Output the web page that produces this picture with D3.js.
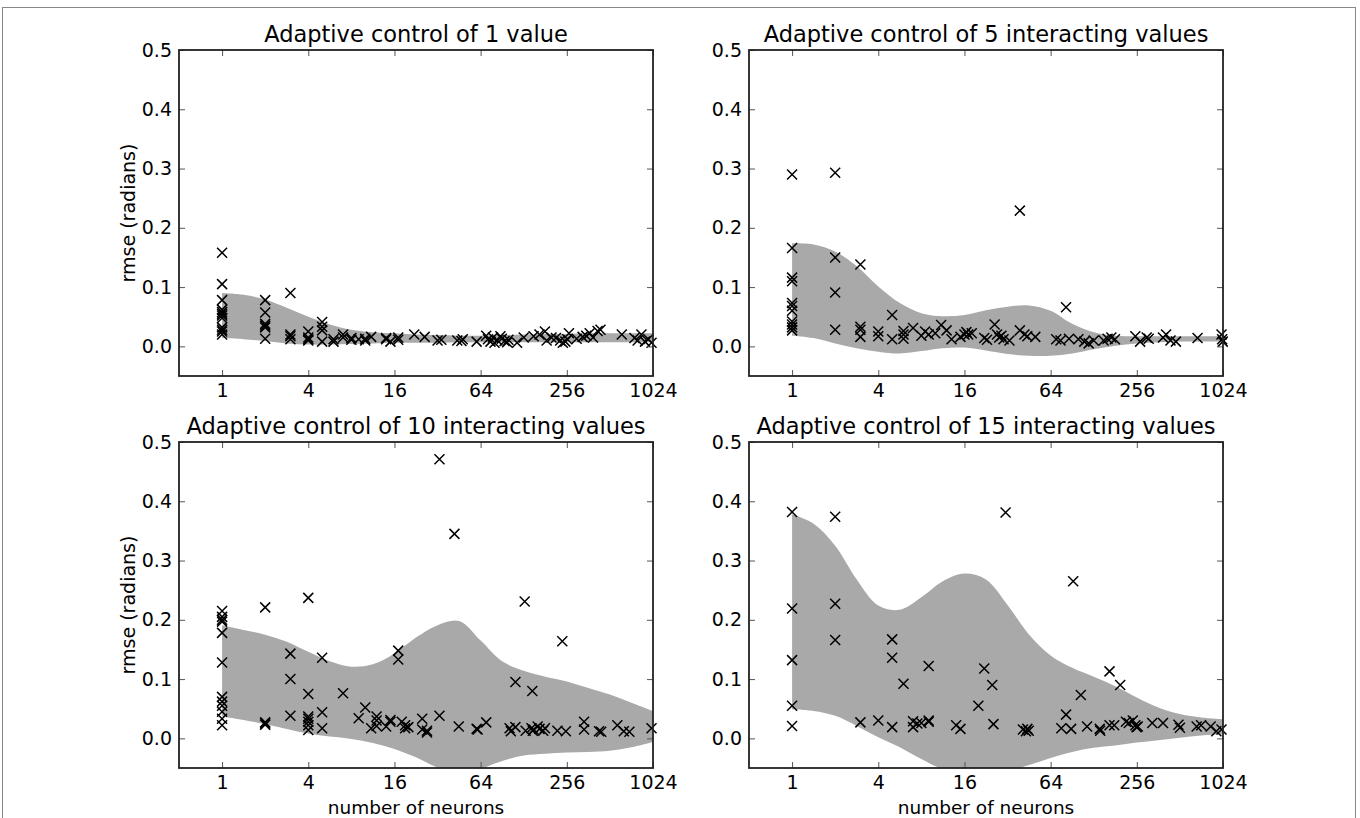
<html>
<head>
  <meta charset="utf-8">
  <title>Adaptive control</title>
  <script src="https://cdn.jsdelivr.net/npm/d3@7"></script>
  <style>
    body { margin: 0; padding: 0; background: #fff; }
    svg { display: block; font-family: "DejaVu Sans", sans-serif; }
  </style>
</head>
<body>
  <div id="chart"></div>
  <script>
    var bandX = [1, 1.414, 2, 2.83, 4, 5.66, 8, 11.3, 16, 22.6, 32, 45.3, 64, 90.5, 128, 181, 256, 362, 512, 724, 1024]

    var titles = ["Adaptive control of 1 value", "Adaptive control of 5 interacting values",
                  "Adaptive control of 10 interacting values", "Adaptive control of 15 interacting values"]
    var xTicks = [1, 4, 16, 64, 256, 1024]
    var yTicks = [0.0, 0.1, 0.2, 0.3, 0.4, 0.5]

    // panel 1 : 1 value
    var upper1 = [0.090, 0.087, 0.079, 0.065, 0.050, 0.037, 0.028, 0.024, 0.022, 0.020, 0.019, 0.018, 0.018, 0.019, 0.020, 0.021, 0.021, 0.022, 0.022, 0.022, 0.022]
    var lower1 = [0.014, 0.012, 0.009, 0.005, 0.003, 0.003, 0.004, 0.005, 0.006, 0.006, 0.006, 0.007, 0.007, 0.007, 0.007, 0.007, 0.007, 0.007, 0.007, 0.007, 0.007]
    var px1 = [1,1,1,1,1,1,1,1,1,1,1,1, 2,2,2,2,2,2, 3,3,3,3, 4,4,4,4, 5,5,5,5, 6,6, 7,7, 8,8, 9,10,10,11,
               14,14,15,17,17, 22,26, 32,34, 44,47,48, 60,
               70,72,75,78,80,84,88,90,94,98,100, 115,128, 150,165,180,185,200,
               215,230,240,250,258,265, 300,330,350,370,390,420,440,
               620,760,800,850,900,950,1000]
    var py1 = [0.158,0.105,0.078,0.062,0.058,0.055,0.052,0.048,0.032,0.028,0.025,0.020,
               0.078,0.057,0.038,0.035,0.032,0.013, 0.090,0.020,0.017,0.012,
               0.025,0.015,0.012,0.010, 0.041,0.033,0.027,0.008, 0.012,0.008, 0.020,0.015,
               0.014,0.011, 0.012,0.013,0.010,0.016,
               0.014,0.012,0.008,0.015,0.011, 0.020,0.016, 0.010,0.011, 0.010,0.009,0.012, 0.008,
               0.018,0.012,0.008,0.015,0.006,0.010,0.017,0.013,0.009,0.007,0.011, 0.006,0.015,
               0.017,0.020,0.025,0.010,0.015,
               0.014,0.010,0.006,0.008,0.012,0.022, 0.013,0.016,0.018,0.022,0.015,0.026,0.028,
               0.020,0.014,0.010,0.020,0.008,0.012,0.006]

    // panel 2 : 5 interacting values
    var upper2 = [0.174, 0.172, 0.160, 0.135, 0.101, 0.073, 0.056, 0.051, 0.053, 0.061, 0.067, 0.069, 0.060, 0.038, 0.024, 0.018, 0.017, 0.017, 0.017, 0.017, 0.017]
    var lower2 = [0.018, 0.014, 0.005, -0.003, -0.009, -0.012, -0.008, -0.003, -0.002, -0.007, -0.013, -0.016, -0.016, -0.012, -0.005, 0.001, 0.005, 0.007, 0.008, 0.008, 0.008]
    var px2 = [1,1,1,1,1,1,1,1,1,1,1, 2,2,2,2, 3,3,3,3, 4,4, 5,5, 6,6,6,
               7,8,8.5,9,10, 11,12,13, 15,16,16.5,17,18, 22,23, 26,27,28,29,30,
               33,39,39,42,44,50, 70,75,82,86, 100,110,118,128, 150,160,170,180,
               250,270, 300,310,390,410,440,480, 680, 1000,1010,1020]
    var py2 = [0.290,0.166,0.116,0.110,0.073,0.068,0.060,0.042,0.037,0.032,0.027,
               0.293,0.150,0.091,0.028, 0.138,0.033,0.028,0.016, 0.025,0.017, 0.053,0.012,
               0.026,0.020,0.013,
               0.031,0.018,0.025,0.020,0.022, 0.036,0.027,0.012, 0.016,0.020,0.024,0.020,0.022,
               0.014,0.011, 0.037,0.020,0.015,0.018,0.012,
               0.010,0.229,0.027,0.020,0.017,0.016, 0.012,0.010,0.066,0.013,
               0.012,0.008,0.005,0.010, 0.010,0.013,0.015,0.012,
               0.017,0.008, 0.015,0.013,0.015,0.020,0.010,0.008, 0.014, 0.020,0.012,0.008]

    // panel 3 : 10 interacting values
    var upper3 = [0.191, 0.183, 0.175, 0.163, 0.146, 0.130, 0.121, 0.125, 0.143, 0.170, 0.191, 0.198, 0.165, 0.130, 0.114, 0.104, 0.096, 0.085, 0.074, 0.060, 0.046]
    var lower3 = [0.037, 0.031, 0.024, 0.016, 0.008, 0.003, -0.001, -0.008, -0.018, -0.032, -0.049, -0.057, -0.051, -0.038, -0.029, -0.026, -0.024, -0.023, -0.021, -0.015, -0.006]
    var px3 = [1,1,1,1,1,1,1,1,1,1,1,1, 2,2,2,2, 3,3,3, 4,4,4,4,4,4,4, 5,5,5, 7, 9,10,
               11,12,12,12, 14,15,15, 17,17,18,19,19,20, 25,25,27,27,
               33,33,42,45, 60,61,70, 102,104,112,112, 132,130,147,145,148,150,
               160,165,175,180, 220,238,252, 338,338, 430,445, 577,640,700, 1000]
    var py3 = [0.215,0.205,0.200,0.197,0.178,0.128,0.070,0.062,0.055,0.045,0.033,0.022,
               0.221,0.027,0.025,0.023, 0.143,0.100,0.038,
               0.237,0.075,0.037,0.033,0.028,0.022,0.014, 0.136,0.044,0.017, 0.076, 0.034,0.052,
               0.017,0.037,0.030,0.021, 0.020,0.031,0.028,
               0.148,0.133,0.028,0.022,0.017,0.019, 0.033,0.015,0.013,0.010,
               0.471,0.038,0.345,0.020, 0.016,0.015,0.027, 0.017,0.012,0.095,0.019,
               0.013,0.231,0.080,0.017,0.013,0.015, 0.020,0.016,0.013,0.017,
               0.013,0.164,0.012, 0.028,0.015, 0.012,0.011, 0.022,0.012,0.011, 0.017]

    // panel 4 : 15 interacting values
    var upper4 = [0.378, 0.362, 0.325, 0.268, 0.224, 0.217, 0.238, 0.265, 0.278, 0.268, 0.225, 0.175, 0.140, 0.119, 0.104, 0.088, 0.069, 0.052, 0.041, 0.035, 0.032]
    var lower4 = [0.049, 0.046, 0.038, 0.021, 0.002, -0.015, -0.035, -0.052, -0.060, -0.062, -0.055, -0.045, -0.033, -0.023, -0.016, -0.012, -0.007, -0.003, 0.001, 0.005, 0.007]
    var px4 = [1,1,1,1,1, 2,2,2, 3,4, 5,5,5, 6, 7,7,7.5,8, 9,9,9, 14,15,
               20,22,25,25.5, 31, 41,43,44,45, 76,82,89,92, 104,115, 141,142,
               165,165,178, 196, 215,225,240,250,255,260, 328,390, 500,512,
               670,720, 840,920,1000]
    var py4 = [0.382,0.219,0.132,0.055,0.021, 0.374,0.227,0.166, 0.027,0.030,
               0.167,0.136,0.019, 0.092, 0.029,0.019,0.025,0.026, 0.122,0.030,0.028,
               0.022,0.016, 0.055,0.118,0.090,0.024, 0.381, 0.015,0.012,0.016,0.013,
               0.017,0.040,0.016,0.265, 0.073,0.020, 0.016,0.013,
               0.113,0.022,0.022, 0.090, 0.028,0.026,0.030,0.022,0.019,0.020,
               0.026,0.026, 0.023,0.018, 0.020,0.022, 0.020,0.012,0.015]

    var panels = [
      { title: titles[0], up: upper1, lo: lower1, xs: px1, ys: py1, x0: 179, y0: 50, ylab: true, xlab: false },
      { title: titles[1], up: upper2, lo: lower2, xs: px2, ys: py2, x0: 749, y0: 50, ylab: false, xlab: false },
      { title: titles[2], up: upper3, lo: lower3, xs: px3, ys: py3, x0: 179, y0: 442, ylab: true, xlab: true },
      { title: titles[3], up: upper4, lo: lower4, xs: px4, ys: py4, x0: 749, y0: 442, ylab: false, xlab: true }
    ]

    var W = 1360, H = 818
    var pw = 474, ph = 326

    var svg = d3.select("#chart").append("svg")
      .attr("width", W).attr("height", H)

    svg.append("rect").attr("width", W).attr("height", H).attr("fill", "#fff")
    // thin frame round the figure
    svg.append("rect")
      .attr("x", 2.5).attr("y", 7.5).attr("width", 1353).attr("height", 830)
      .attr("fill", "none").attr("stroke", "#888").attr("stroke-width", 1)

    panels.forEach(function (p, i) {
      var x = d3.scaleLog().base(2).domain([0.5, 1024]).range([0, pw])
      var y = d3.scaleLinear().domain([-0.05, 0.5]).range([ph, 0])

      var g = svg.append("g").attr("transform", "translate(" + p.x0 + "," + p.y0 + ")")

      g.append("clipPath").attr("id", "clip" + i)
        .append("rect").attr("width", pw).attr("height", ph)

      var band = bandX.map(function (v, k) { return { x: v, hi: p.up[k], lo: p.lo[k] } })
      g.append("path")
        .datum(band)
        .attr("clip-path", "url(#clip" + i + ")")
        .attr("fill", "#a9a9a9")
        .attr("d", d3.area()
          .curve(d3.curveCatmullRom.alpha(0.5))
          .x(function (d) { return x(d.x) })
          .y0(function (d) { return y(d.lo) })
          .y1(function (d) { return y(d.hi) }))

      var pts = p.xs.map(function (v, k) { return [v, p.ys[k]] })
      g.append("g").selectAll("path")
        .data(pts)
        .enter().append("path")
        .attr("transform", function (d) { return "translate(" + x(d[0]) + "," + y(d[1]) + ")" })
        .attr("d", "M-5,-5L5,5M-5,5L5,-5")
        .attr("stroke", "#000").attr("stroke-width", 1.5).attr("fill", "none")

      // axes with ticks pointing inward on all four sides
      var ax = [
        g.append("g").attr("transform", "translate(0," + ph + ")")
          .call(d3.axisBottom(x).tickValues(xTicks).tickFormat(d3.format("d")).tickSizeInner(-6).tickSizeOuter(0).tickPadding(8)),
        g.append("g")
          .call(d3.axisTop(x).tickValues(xTicks).tickFormat("").tickSizeInner(-6).tickSizeOuter(0)),
        g.append("g")
          .call(d3.axisLeft(y).tickValues(yTicks).tickFormat(d3.format(".1f")).tickSizeInner(-6).tickSizeOuter(0).tickPadding(7)),
        g.append("g").attr("transform", "translate(" + pw + ",0)")
          .call(d3.axisRight(y).tickValues(yTicks).tickFormat("").tickSizeInner(-6).tickSizeOuter(0))
      ]
      ax.forEach(function (a) {
        a.select(".domain").remove()
        a.selectAll(".tick line").attr("stroke", "#555").attr("stroke-width", 1)
        a.selectAll(".tick text").attr("font-size", 19).attr("font-family", "DejaVu Sans").attr("fill", "#000")
      })

      g.append("rect")
        .attr("width", pw).attr("height", ph)
        .attr("fill", "none").attr("stroke", "#222").attr("stroke-width", 1.8)

      g.append("text")
        .attr("x", pw / 2).attr("y", -8)
        .attr("text-anchor", "middle")
        .attr("font-size", 22.5)
        .text(p.title)

      if (p.ylab)
        g.append("text")
          .attr("transform", "translate(-51," + (ph / 2) + ") rotate(-90)")
          .attr("text-anchor", "middle")
          .attr("dominant-baseline", "central")
          .attr("font-size", 19)
          .text("rmse (radians)")

      if (p.xlab)
        g.append("text")
          .attr("x", pw / 2).attr("y", ph + 46)
          .attr("text-anchor", "middle")
          .attr("font-size", 18.5)
          .text("number of neurons")
    })
  </script>
</body>
</html>
